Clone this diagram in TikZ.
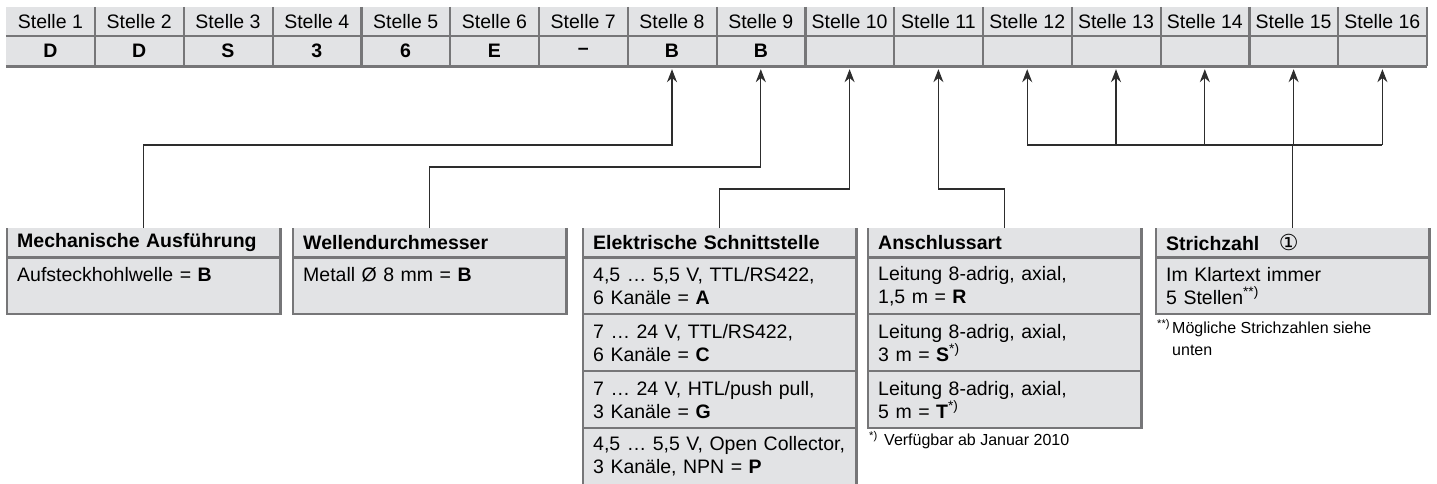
\documentclass[tikz,border=0pt]{standalone}
\usepackage{fontspec}
\setmainfont{Liberation Sans}
\newfontfamily\symfont{DejaVu Sans}
\usetikzlibrary{positioning,arrows.meta}
\definecolor{cellgray}{RGB}{226,227,229}
\definecolor{rimgray}{RGB}{118,118,120}
\definecolor{wiregray}{RGB}{45,45,45}
\begin{document}
\begin{tikzpicture}[x=1pt,y=-1pt,
	cell/.style={fill=cellgray,inner sep=0pt,minimum width=88.8pt,font=\fontsize{19.5}{23}\selectfont},
	head/.style={cell,minimum height=29pt},
	val/.style={cell,minimum height=30pt,font=\fontsize{19.5}{23}\selectfont\bfseries},
	boxhead/.style={fill=cellgray,inner xsep=10pt,inner ysep=0pt,minimum height=29pt,text width=253pt,align=left,font=\fontsize{19.5}{23}\selectfont\bfseries},
	boxrow/.style={fill=cellgray,inner xsep=10pt,inner ysep=4pt,minimum height=56.5pt,text width=253pt,align=left,font=\fontsize{19.5}{23}\selectfont},
	rim/.style={line width=2.2pt,color=rimgray},
	wire/.style={line width=1.2pt,color=wiregray},
	arr/.style={wire,-{Stealth[length=13pt,width=10pt]},shorten >=3pt},
	note/.style={font=\fontsize{16}{22}\selectfont,inner sep=0pt,align=left}]
\useasboundingbox (0,0) rectangle (1437,484);

% Typenschluessel
\foreach \i in {1,...,16}
	\node (h\i) [head] at ({6+88.8*(\i-0.5)},21.5) {Stelle \i};
\foreach \i/\v in {1/D,2/D,3/S,4/3,5/6,6/E,7/--,8/B,9/B,10/{},11/{},12/{},13/{},14/{},15/{},16/{}}
	\node (v\i) [val] at ({6+88.8*(\i-0.5)},51) {\v};
\foreach \i in {1,...,16}
	\draw [rim] (h\i.north east)--(v\i.south east);
\draw [rim] (h1.south west)--(h16.south east);
\draw [rim,line width=3pt] (v1.south west)--(v16.south east);

% Kaesten
\node (mechh) [boxhead,anchor=north west] at (7,228) {Mechanische Ausführung};
\node (mech1) [boxrow,below=0pt of mechh] {Aufsteckhohlwelle = \textbf{B}\\\mbox{}};

\node (wellh) [boxhead,anchor=north west] at (293,228) {Wellendurchmesser};
\node (well1) [boxrow,below=0pt of wellh] {Metall Ø 8 mm = \textbf{B}\\\mbox{}};

\node (elekh) [boxhead,anchor=north west] at (583,228) {Elektrische Schnittstelle};
\node (elek1) [boxrow,below=0pt of elekh] {4,5 … 5,5 V, TTL/RS422,\\6 Kanäle = \textbf{A}};
\node (elek2) [boxrow,below=0pt of elek1] {7 … 24 V, TTL/RS422,\\6 Kanäle = \textbf{C}};
\node (elek3) [boxrow,below=0pt of elek2] {7 … 24 V, HTL/push pull,\\3 Kanäle = \textbf{G}};
\node (elek4) [boxrow,below=0pt of elek3] {4,5 … 5,5 V, Open Collector,\\3 Kanäle, NPN = \textbf{P}};

\node (anschh) [boxhead,anchor=north west] at (868,228) {Anschlussart};
\node (ansch1) [boxrow,below=0pt of anschh] {Leitung 8-adrig, axial,\\1,5 m = \textbf{R}};
\node (ansch2) [boxrow,below=0pt of ansch1] {Leitung 8-adrig, axial,\\3 m = \textbf{S}\textsuperscript{*)}};
\node (ansch3) [boxrow,below=0pt of ansch2] {Leitung 8-adrig, axial,\\5 m = \textbf{T}\textsuperscript{*)}};

\node (strichh) [boxhead,anchor=north west] at (1156,228) {Strichzahl\quad{\symfont\mdseries\fontsize{22}{22}\selectfont ①}};
\node (strich1) [boxrow,below=0pt of strichh] {Im Klartext immer\\5 Stellen\textsuperscript{**)}};

\foreach \b/\r in {mech/1,well/1,elek/4,ansch/3,strich/1}{
	\draw [rim] (\b h.north west)--(\b\r.south west)--(\b\r.south east)--(\b h.north east);
	\draw [rim] (\b h.south west)--(\b h.south east);
}
\foreach \r in {1,2,3}
	\draw [rim] (elek\r.south west)--(elek\r.south east);
\foreach \r in {1,2}
	\draw [rim] (ansch\r.south west)--(ansch\r.south east);

% Fussnoten
\node (fn1) [note,anchor=north west] at (869,431) {\makebox[15pt][l]{\textsuperscript{*)}}Verfügbar ab Januar 2010};
\node (fn2) [note,anchor=north west] at (1157,319) {\makebox[15pt][l]{\textsuperscript{**)}}Mögliche Strichzahlen siehe\\\hspace*{15pt}unten};

% Verbindungen
\coordinate (b1) at (0,145);
\coordinate (b2) at (0,167);
\coordinate (b3) at (0,189);
\draw [arr] (mechh.north) |- (v8.south |- b1)--(v8.south);
\draw [arr] (wellh.north) |- (v9.south |- b2)--(v9.south);
\draw [arr] (elekh.north) |- (v10.south |- b3)--(v10.south);
\draw [arr] (anschh.north) |- (v11.south |- b3)--(v11.south);
\draw [wire] (v12.south |- b1)--(v16.south |- b1);
\draw [wire] (strichh.north)--(strichh.north |- b1);
\foreach \i in {12,...,16}
	\draw [arr] (v\i.south |- b1)--(v\i.south);
\end{tikzpicture}
\end{document}
